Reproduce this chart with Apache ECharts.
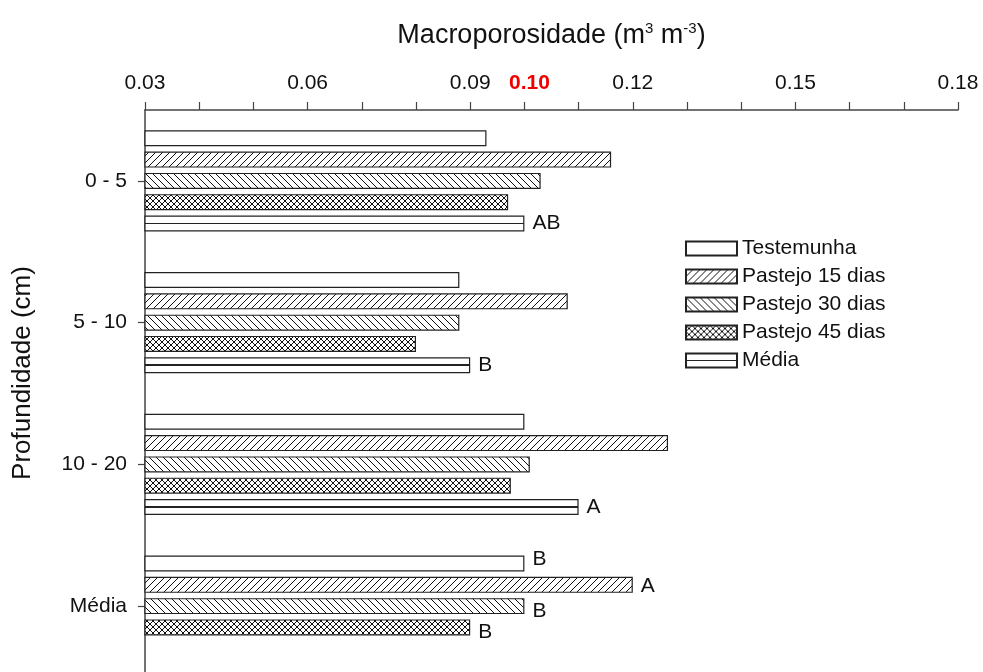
<!DOCTYPE html>
<html>
<head>
<meta charset="utf-8">
<title>Macroporosidade</title>
<script src="https://cdn.jsdelivr.net/npm/echarts@6/dist/echarts.min.js"></script>
<style>
  html, body { margin: 0; padding: 0; background: #fff; }
  #chart { width: 983px; height: 672px; }
</style>
</head>
<body>
<div id="chart"></div>
<script>
// Depth layers (top to bottom) and the overall mean row
const categories = ['0 - 5', '5 - 10', '10 - 20', 'Média'];

// Macroporosity (m3 m-3) per treatment
const testemunha = [0.093, 0.088, 0.100, 0.100];
const pastejo15  = [0.116, 0.108, 0.1265, 0.120];
const pastejo30  = [0.103, 0.088, 0.101, 0.100];
const pastejo45  = [0.097, 0.080, 0.0975, 0.090];
const media      = [0.100, 0.090, 0.110, null];

// Mean-comparison letters shown beside the bars
const lettersTestemunha = ['', '', '', 'B'];
const letters15 = ['', '', '', 'A'];
const letters30 = ['', '', '', 'B'];
const letters45 = ['', '', '', 'B'];
const lettersMedia = ['AB', 'B', 'A', ''];

// Tick labels drawn on the value axis (others are left blank)
const tickLabels = ['0.03', '0.06', '0.09', '0.10', '0.12', '0.15', '0.18'];
const highlightTick = '0.10';

const FONT = 'Liberation Sans, Arial, Helvetica, sans-serif';
const INK = '#111';

// Vertical nudges (px) of the letters in the last row, per series
const LETTER_NUDGE = { 'Testemunha': -4, 'Pastejo 15 dias': 1, 'Pastejo 30 dias': 5, 'Pastejo 45 dias': 5, 'Média': 0 };

// Hatch tiles for the bar fills
function hatch(kind, size) {
  const c = document.createElement('canvas');
  c.width = size; c.height = size;
  const ctx = c.getContext('2d');
  ctx.fillStyle = '#fff';
  ctx.fillRect(0, 0, size, size);
  ctx.strokeStyle = '#111';
  ctx.lineWidth = 1;
  const fwd = () => {
    ctx.beginPath();
    ctx.moveTo(0, size); ctx.lineTo(size, 0);
    ctx.moveTo(-1, 1); ctx.lineTo(1, -1);
    ctx.moveTo(size - 1, size + 1); ctx.lineTo(size + 1, size - 1);
    ctx.stroke();
  };
  const back = () => {
    ctx.beginPath();
    ctx.moveTo(0, 0); ctx.lineTo(size, size);
    ctx.moveTo(-1, size - 1); ctx.lineTo(1, size + 1);
    ctx.moveTo(size - 1, -1); ctx.lineTo(size + 1, 1);
    ctx.stroke();
  };
  if (kind === 'fwd' || kind === 'cross') fwd();
  if (kind === 'back' || kind === 'cross') back();
  return { image: c, repeat: 'repeat' };
}

// White bar with a single thin rule along its middle
const mediaFill = {
  type: 'linear', x: 0, y: 0, x2: 0, y2: 1,
  colorStops: [
    { offset: 0, color: '#fff' },
    { offset: 0.45, color: '#fff' },
    { offset: 0.45, color: '#222' },
    { offset: 0.55, color: '#222' },
    { offset: 0.55, color: '#fff' },
    { offset: 1, color: '#fff' }
  ]
};

function barSeries(name, values, letters, fill) {
  const nudge = LETTER_NUDGE[name] || 0;
  return {
    name: name,
    type: 'bar',
    data: values.map((v, i) => (i === categories.length - 1 && nudge)
      ? { value: v, label: { offset: [0, nudge] } }
      : v),
    barWidth: 16,
    barGap: '33%',
    itemStyle: { color: fill, borderColor: '#222', borderWidth: 1.2 },
    label: {
      show: true,
      position: 'right',
      distance: 8,
      color: INK,
      fontFamily: FONT,
      fontSize: 21,
      formatter: p => letters[p.dataIndex] || ''
    },
    emphasis: { disabled: true }
  };
}

const chart = echarts.init(document.getElementById('chart'), null, { renderer: 'canvas' });

chart.setOption({
  animation: false,
  backgroundColor: '#fff',
  grid: { left: 145, right: 25, top: 110, bottom: -5, containLabel: false, outerBoundsMode: 'none' },
  legend: {
    orient: 'vertical',
    left: 680,
    top: 233,
    itemWidth: 51,
    itemHeight: 14,
    itemGap: 7,
    icon: 'rect',
    selectedMode: false,
    textStyle: { fontFamily: FONT, fontSize: 21, color: INK },
    data: ['Testemunha', 'Pastejo 15 dias', 'Pastejo 30 dias', 'Pastejo 45 dias', 'Média']
  },
  xAxis: {
    type: 'value',
    position: 'top',
    min: 0.03,
    max: 0.18,
    interval: 0.01,
    name: 'Macroporosidade (m{sup|3} m{sup|-3})',
    nameLocation: 'middle',
    nameGap: 60,
    nameTextStyle: {
      fontFamily: FONT, fontSize: 27, color: INK,
      rich: { sup: { fontFamily: FONT, fontSize: 15, color: INK, padding: [0, 0, 14, 0] } }
    },
    axisLine: { show: true, lineStyle: { color: '#444', width: 1.5 } },
    axisTick: { show: true, inside: false, length: 8, lineStyle: { color: '#444', width: 1.2 } },
    splitLine: { show: false },
    axisLabel: {
      interval: 0,
      margin: 16,
      fontFamily: FONT,
      fontSize: 21,
      color: INK,
      formatter: v => {
        const s = v.toFixed(2);
        if (tickLabels.indexOf(s) < 0) return '';
        return s === highlightTick ? '{hi|' + s + '}' : s;
      },
      rich: { hi: { color: '#ee0000', fontWeight: 'bold', fontFamily: FONT, fontSize: 21, padding: [0, 0, 0, 10] } }
    }
  },
  yAxis: {
    type: 'category',
    inverse: true,
    data: categories,
    axisLine: { show: true, lineStyle: { color: '#444', width: 1.5 } },
    axisTick: { show: true, alignWithLabel: true, length: 7, lineStyle: { color: '#444', width: 1.2 } },
    splitLine: { show: false },
    axisLabel: { margin: 18, fontFamily: FONT, fontSize: 21, color: INK }
  },
  graphic: [{
    type: 'text',
    x: 23,
    y: 373,
    rotation: Math.PI / 2,
    style: {
      text: 'Profundidade (cm)',
      fontFamily: FONT,
      fontSize: 26,
      fill: INK,
      textAlign: 'center',
      textVerticalAlign: 'middle'
    }
  }],
  series: [
    barSeries('Testemunha', testemunha, lettersTestemunha, '#fff'),
    barSeries('Pastejo 15 dias', pastejo15, letters15, hatch('fwd', 7)),
    barSeries('Pastejo 30 dias', pastejo30, letters30, hatch('back', 7)),
    barSeries('Pastejo 45 dias', pastejo45, letters45, hatch('cross', 6)),
    barSeries('Média', media, lettersMedia, mediaFill)
  ]
});
</script>
</body>
</html>
